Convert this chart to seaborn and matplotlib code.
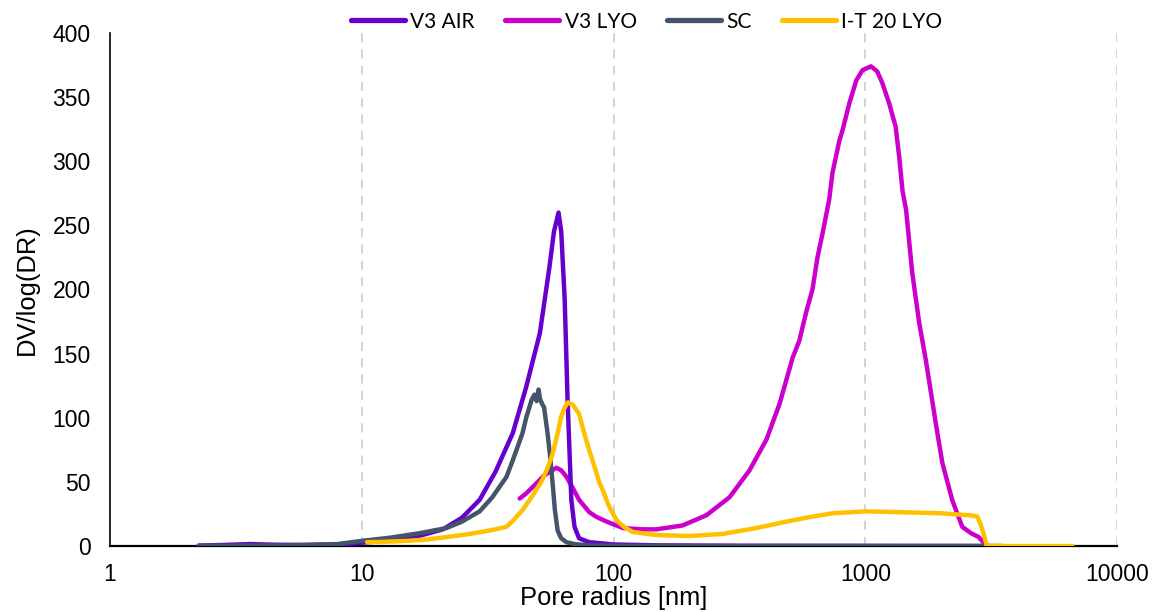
import numpy as np
import pandas as pd
import matplotlib
matplotlib.use("Agg")
import matplotlib.pyplot as plt
import seaborn as sns
from matplotlib.ticker import FixedLocator, NullLocator

# ---- data ----
series_names = ["V3 AIR", "V3 LYO", "SC", "I-T 20 LYO"]
series_colors = ["#6600CC", "#CC00CC", "#44546A", "#FFC000"]

v3air_x = [2.25, 2.8, 3.6, 4.5, 6, 8, 10, 13, 17, 21, 25, 29.4, 34, 39.8, 45, 51, 55.7, 58, 60.5,
           62, 64, 65.7, 68, 70, 73, 80, 100, 150, 300, 1000, 3000]
v3air_y = [0.3, 0.8, 1.5, 1.0, 0.8, 1.2, 2.5, 4.5, 8, 13, 22, 36, 58, 88, 124, 166, 218, 245, 260,
           245, 192, 114, 36, 15, 6, 3, 1.2, 0.5, 0.2, 0.1, 0]

v3lyo_x = [42.4, 45, 49.5, 53, 56, 59.4, 62, 65, 69, 73, 80, 85, 94, 109, 130, 148, 188, 234, 289,
           347, 405, 457, 515, 547, 582, 617, 646, 677, 719, 741, 789, 812, 864, 921, 975, 1054,
           1116, 1169, 1245, 1320, 1365, 1406, 1453, 1537, 1638, 1740, 1850, 1905, 2023, 2214,
           2428, 2630, 2820, 2965, 3100]
v3lyo_y = [37, 41, 49, 55, 58, 61, 59, 54, 45, 36, 26.5, 23, 19, 14, 13, 13, 16, 24, 38,
           59, 83, 111, 147, 160, 182, 200, 225, 244, 270, 291, 316, 324, 345, 363, 371, 374,
           370, 361, 345, 327, 303, 277, 262, 213, 174, 145, 112, 96, 65, 36,
           15, 10, 7, 2.3, 0]

sc_x = [2.25, 3, 5, 8, 10, 13, 17, 21.7, 25, 29.4, 33, 37.6, 40, 43.5, 45, 47.3, 48.5, 49.5, 50.4,
        51, 52, 53, 54.7, 56, 57.3, 58.5, 60, 62, 65, 70, 80, 100, 200, 3500]
sc_y = [0.2, 0.3, 0.5, 1.5, 4, 6.5, 10, 14, 19, 27, 38, 54, 68, 88, 100, 114, 118, 113, 122,
        115, 111, 108, 88, 70, 49, 28, 12, 6, 3, 1.5, 0.5, 0.2, 0, 0]

it20_x = [10.5, 12, 15, 18, 21.7, 26, 30, 34, 37.6, 40, 43.5, 48, 52, 55, 57.3, 60, 62, 64, 66,
          69, 73, 76, 80, 84, 88, 91, 95, 99, 103, 110, 119, 135, 148, 200, 271, 369, 500,
          600, 741, 1000, 1300, 1600, 2000, 2360, 2600, 2790, 2870, 2950, 3030, 3100, 6650]
it20_y = [3, 3.2, 4, 5, 7, 9, 11, 13, 15, 20, 28, 40, 51, 62, 72, 88, 101, 108, 112,
          110, 103, 90, 75, 62, 49, 43, 33, 26, 20, 15, 11, 9.5, 8.6, 7.8, 9.4, 14, 19.5,
          22.5, 25.5, 27, 26.5, 26, 25.5, 24.5, 24, 23, 17, 10, 1, 0, 0]

x_ticks = [1, 10, 100, 1000, 10000]
x_tick_labels = ["1", "10", "100", "1000", "10000"]
y_ticks = [0, 50, 100, 150, 200, 250, 300, 350, 400]

# ---- build long frame ----
frames = []
for name, xs, ys in zip(series_names,
                        [v3air_x, v3lyo_x, sc_x, it20_x],
                        [v3air_y, v3lyo_y, sc_y, it20_y]):
    frames.append(pd.DataFrame({"x": xs, "y": ys, "series": name}))
df = pd.concat(frames, ignore_index=True)

sns.set_style("white")
plt.rcParams["font.family"] = ["Liberation Sans", "DejaVu Sans"]
plt.rcParams["text.color"] = "black"
plt.rcParams["axes.labelcolor"] = "black"
plt.rcParams["xtick.color"] = "black"
plt.rcParams["ytick.color"] = "black"

fig = plt.figure(figsize=(11.57, 6.12), dpi=100)
ax = fig.add_axes([110 / 1157, 66 / 612, 1007 / 1157, 513 / 612])

draw_order = ["V3 LYO", "V3 AIR", "SC", "I-T 20 LYO"]
pal = dict(zip(series_names, series_colors))
for z, name in enumerate(draw_order):
    sub = df[df["series"] == name]
    sns.lineplot(data=sub, x="x", y="y", color=pal[name], lw=3.2, sort=False,
                 estimator=None, ax=ax, zorder=3 + z)
for ln in ax.get_lines():
    ln.set_solid_capstyle("round")
    ln.set_solid_joinstyle("round")

ax.set_xscale("log")
ax.set_xlim(1, 10000)
ax.set_ylim(0, 400)
ax.xaxis.set_major_locator(FixedLocator(x_ticks))
ax.xaxis.set_minor_locator(NullLocator())
ax.set_xticklabels(x_tick_labels)
ax.set_yticks(y_ticks)
ax.tick_params(axis="both", length=0, labelsize=16.5, colors="black")
ax.tick_params(axis="x", pad=12)
ax.tick_params(axis="y", pad=14)

for xv in x_ticks[1:]:
    ax.axvline(xv, color="#D0D0D0", lw=1.3, ls=(0, (5, 4)), zorder=1)

for s in ["top", "right"]:
    ax.spines[s].set_visible(False)
ax.spines["left"].set_color("black")
ax.spines["left"].set_linewidth(1.2)
ax.spines["bottom"].set_color("black")
ax.spines["bottom"].set_linewidth(1.6)
ax.spines["bottom"].set_zorder(2)

ax.set_xlabel("Pore radius [nm]", fontsize=18.4, labelpad=0)
ax.set_ylabel("DV/log(DR)", fontsize=18.4, labelpad=10)

handles = [plt.Line2D([0], [0], color=c, lw=3.8, solid_capstyle="round") for c in series_colors]
leg = ax.legend(handles, series_names, loc="center", bbox_to_anchor=(0.533, 1.022), ncol=4,
                frameon=False, handlelength=2.6, columnspacing=1.45, handletextpad=0.25,
                prop={"family": "Lato", "size": 15})

fig.savefig("out.png", dpi=100)
